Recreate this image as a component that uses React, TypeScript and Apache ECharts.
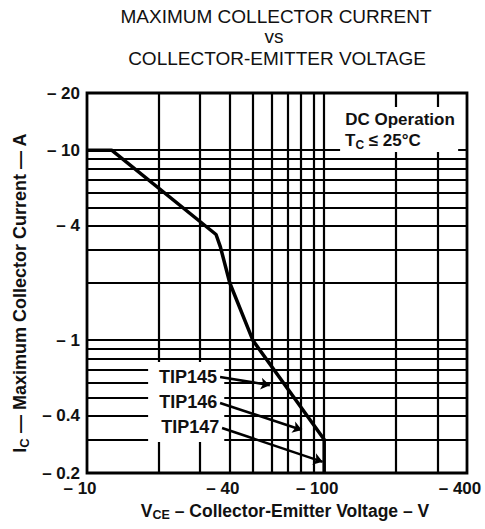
import React, { useEffect, useRef } from 'react';
import * as echarts from 'echarts';

// Magnitudes (device is PNP: all values are negative, labels carry the sign)
const X_TICKS = [10, 40, 100, 400];
const Y_TICKS = [0.2, 0.4, 1, 4, 10, 20];
const X_GRID = [20, 30, 40, 50, 60, 70, 80, 90, 100, 200, 300];
const Y_GRID = [0.3, 0.4, 0.5, 0.6, 0.7, 0.8, 0.9, 1, 2, 3, 4, 5, 6, 7, 8, 9, 10];

// Safe operating limit: -VCE (V) vs -IC (A)
const CURVE_V = [10, 12.7, 35, 36.5, 40, 50, 100, 100];
const CURVE_I = [10, 10, 3.6, 3.1, 2.0, 1.0, 0.3, 0.2];

// Device callouts
const DEVICES = ['TIP145', 'TIP146', 'TIP147'];
const ARROW_FROM_V = [36.4, 36.4, 37.1];
const ARROW_FROM_I = [0.64, 0.467, 0.345];
const ARROW_TO_V = [59, 80.5, 98.5];
const ARROW_TO_I = [0.58, 0.337, 0.229];

const FONT = '"Liberation Sans", Arial, Helvetica, sans-serif';
const INK = '#111';

export default function App() {
  const ref = useRef<HTMLDivElement>(null);
  useEffect(() => {
    if (!ref.current) return;
    const chart = echarts.init(ref.current, undefined, { renderer: 'svg' });
    const sign = (v: number) => '\u2013 ' + v;
    const option: any = {
      animation: false,
      textStyle: { fontFamily: FONT },
      grid: {
        left: 87, right: 18, top: 93, bottom: 56,
        containLabel: false, outerBoundsMode: 'none',
        show: true, borderColor: '#000', borderWidth: 2.8, backgroundColor: 'transparent',
      },
      graphic: [
        { type: 'text', x: 276, y: 16.5, z: 10, style: { text: 'MAXIMUM COLLECTOR CURRENT', fontSize: 19, fontFamily: FONT, fill: INK, align: 'center', verticalAlign: 'middle', textAlign: 'center', textVerticalAlign: 'middle' } },
        { type: 'text', x: 274, y: 36, z: 10, style: { text: 'vs', fontSize: 19, fontFamily: FONT, fill: INK, align: 'center', verticalAlign: 'middle', textAlign: 'center', textVerticalAlign: 'middle' } },
        { type: 'text', x: 277, y: 58, z: 10, style: { text: 'COLLECTOR-EMITTER VOLTAGE', fontSize: 19, fontFamily: FONT, fill: INK, align: 'center', verticalAlign: 'middle', textAlign: 'center', textVerticalAlign: 'middle' } },
        { type: 'text', x: 400, y: 119, z: 10, style: { text: 'DC Operation', fontSize: 17, fontWeight: 'bold', fontFamily: FONT, fill: INK, align: 'center', verticalAlign: 'middle', textAlign: 'center', textVerticalAlign: 'middle' } },
        {
          type: 'text', x: 345, y: 140, z: 10,
          style: {
            text: '{t|T}{s|C}{t| \u2264 25\u00b0C}',
            fontFamily: FONT, fill: INK, align: 'left', verticalAlign: 'middle', textAlign: 'left', textVerticalAlign: 'middle',
            rich: {
              t: { fontSize: 17, fontWeight: 'bold', fontFamily: FONT, fill: INK, color: INK, lineHeight: 22 },
              s: { fontSize: 12, fontWeight: 'bold', fontFamily: FONT, fill: INK, color: INK, lineHeight: 12, verticalAlign: 'bottom' },
            },
          },
        },
      ],
      xAxis: {
        type: 'log', logBase: 10, min: 10, max: 400,
        axisLine: { show: false }, axisTick: { show: false }, splitLine: { show: false },
        axisLabel: {
          customValues: X_TICKS, formatter: sign, margin: 9, lineHeight: 13,
          fontSize: 17, fontWeight: 'bold', color: INK, fontFamily: FONT, padding: [0, 14, 0, 0],
        },
        name: '{b|V}{s|CE}{b| \u2013 Collector-Emitter Voltage \u2013 V}',
        nameLocation: 'middle', nameGap: 26,
        nameTextStyle: {
          padding: [0, 0, 0, 16],
          rich: {
            b: { fontSize: 17.5, fontWeight: 'bold', color: INK, fontFamily: FONT, lineHeight: 22 },
            s: { fontSize: 12.5, fontWeight: 'bold', color: INK, fontFamily: FONT, lineHeight: 13, verticalAlign: 'bottom' },
          },
        },
      },
      yAxis: {
        type: 'log', logBase: 10, min: 0.2, max: 20,
        axisLine: { show: false }, axisTick: { show: false }, splitLine: { show: false },
        axisLabel: {
          customValues: Y_TICKS, formatter: sign, margin: 7, lineHeight: 13, padding: [0, 0, 3, 0],
          fontSize: 17, fontWeight: 'bold', color: INK, fontFamily: FONT,
        },
        name: '{b|I}{s|C}{b| \u2014 Maximum Collector Current \u2014 A}',
        nameLocation: 'middle', nameRotate: 90, nameGap: 55,
        nameTextStyle: {
          padding: [0, 20, 0, 0],
          rich: {
            b: { fontSize: 18, fontWeight: 'bold', color: INK, fontFamily: FONT, lineHeight: 22 },
            s: { fontSize: 13, fontWeight: 'bold', color: INK, fontFamily: FONT, lineHeight: 13, verticalAlign: 'bottom' },
          },
        },
      },
      series: [
        {
          type: 'line', name: 'grid', data: [], z: 1, silent: true,
          markLine: {
            z: 1, silent: true, symbol: 'none', animation: false,
            label: { show: false },
            lineStyle: { color: '#000', width: 2.2, type: 'solid', opacity: 1 },
            emphasis: { disabled: true },
            data: [
              ...X_GRID.map((v) => ({ xAxis: v })),
              ...Y_GRID.map((v) => ({ yAxis: v })),
            ],
          },
        },
        {
          type: 'line', name: 'masks', data: [], z: 2, silent: true,
          markArea: {
            z: 2, silent: true, animation: false,
            itemStyle: { color: '#fff', opacity: 1 },
            label: { show: false },
            emphasis: { disabled: true },
            data: [
              [{ coord: [18.1, 0.767] }, { coord: [37.9, 0.291] }],
              [{ coord: [116.7, 16.9] }, { coord: [367, 9.79] }],
            ],
          },
        },
        {
          type: 'line', name: 'limit', z: 3, silent: true, clip: false,
          symbol: 'none',
          lineStyle: { color: '#000', width: 3.5 },
          data: CURVE_V.map((v, i) => [v, CURVE_I[i]]),
        },
        {
          type: 'line', name: 'callouts', data: [], z: 4, silent: true,
          markLine: {
            z: 4, silent: true, animation: false,
            symbol: ['none', 'arrow'], symbolSize: 9,
            lineStyle: { color: '#000', width: 2.5, type: 'solid', opacity: 1 },
            emphasis: { disabled: true },
            label: {
              show: true, position: 'start', formatter: '{b}', distance: 3,
              fontSize: 18, fontWeight: 'bold', color: INK, fontFamily: FONT,
            },
            data: DEVICES.map((d, i) => [
              { name: d, coord: [ARROW_FROM_V[i], ARROW_FROM_I[i]] },
              { coord: [ARROW_TO_V[i], ARROW_TO_I[i]] },
            ]),
          },
        },
      ],
    };
    chart.setOption(option);
    return () => chart.dispose();
  }, []);
  return <div ref={ref} style={{ position: 'absolute', left: 0, top: 0, width: 485, height: 529, background: '#fff' }} />;
}
